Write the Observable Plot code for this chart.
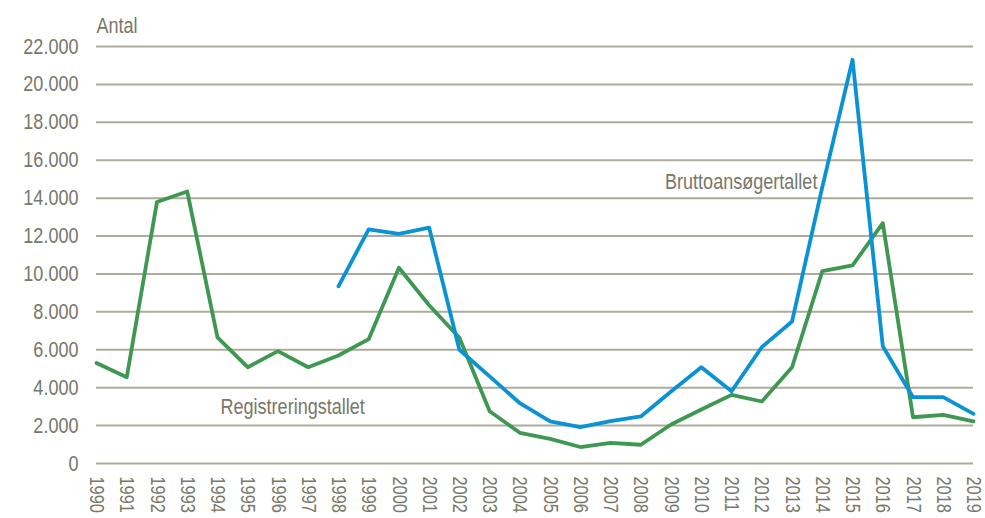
<!DOCTYPE html>
<html>
<head>
<meta charset="utf-8">
<script src="https://cdn.jsdelivr.net/npm/d3@7"></script>
<script src="https://cdn.jsdelivr.net/npm/@observablehq/plot@0.6"></script>
<style>
  html, body { margin: 0; padding: 0; background: #fff; }
  #chart svg { display: block; }
</style>
</head>
<body>
<div id="chart"></div>
<script>
const years = d3.range(1990, 2020);
const registrering = [5300, 4550, 13800, 14350, 6650, 5080, 5930, 5080, 5700, 6560,
  10330, 8350, 6630, 2760, 1620, 1300, 870, 1090, 990, 2060,
  2850, 3620, 3270, 5080, 10150, 10450, 12680, 2440, 2570, 2220];
const bruttoYears = d3.range(1998, 2020);
const brutto = [9350, 12350, 12120, 12440, 6000, 4600, 3180, 2220, 1920, 2230,
  2480, 3800, 5080, 3810, 6140, 7490, 14580, 21300, 6190, 3500, 3500, 2620];
const yTicks = d3.range(0, 22001, 2000);
const labels = [
  {text: "Bruttoansøgertallet", x: 2008.8, y: 14850},
  {text: "Registreringstallet", x: 1994.1, y: 3010}
];

const regData = years.map((y, i) => ({year: y, value: registrering[i]}));
const bruData = bruttoYears.map((y, i) => ({year: y, value: brutto[i]}));

const fmt = d3.formatLocale({decimal: ",", thousands: ".", grouping: [3], currency: ["", ""]}).format(",d");

const FONT = "'Liberation Sans', Arial, sans-serif";
const TXT = "#77776a";

const chart = Plot.plot({
  width: 985,
  height: 518,
  marginLeft: 96,
  marginRight: 12,
  marginTop: 46,
  marginBottom: 55,
  style: {fontFamily: FONT, fontSize: "22px", color: TXT, background: "#fff"},
  x: {domain: [1990, 2019]},
  y: {domain: [0, 22000]},
  marks: [
    Plot.ruleY(yTicks, {stroke: "#aeab9c", strokeWidth: 2}),
    Plot.axisY({ticks: yTicks, tickFormat: fmt, tickSize: 0, tickPadding: 18, label: null, fontSize: 22, fill: TXT}),
    Plot.axisX({ticks: years, tickFormat: d => String(d), tickSize: 0, tickPadding: 13, tickRotate: 90, label: null, fontSize: 20, fill: TXT}),
    Plot.line(regData, {x: "year", y: "value", stroke: "#3f9851", strokeWidth: 3.8}),
    Plot.line(bruData, {x: "year", y: "value", stroke: "#0a93d4", strokeWidth: 3.8}),
    Plot.text(labels, {x: "x", y: "y", text: "text", textAnchor: "start", fill: TXT, fontSize: 22}),
    Plot.text(["Antal"], {frameAnchor: "top-left", lineAnchor: "middle", dy: -21, textAnchor: "start", fill: TXT, fontSize: 22})
  ]
});
document.getElementById("chart").append(chart);
// emulate a condensed (Arial Narrow-like) face
chart.querySelectorAll("text").forEach(t => {
  const tr = t.getAttribute("transform");
  if (tr) {
    t.setAttribute("transform", tr + " scale(0.82,1)");
  } else {
    const L = t.getComputedTextLength();
    if (L > 0) {
      t.setAttribute("textLength", (L * 0.82).toFixed(2));
      t.setAttribute("lengthAdjust", "spacingAndGlyphs");
    }
  }
});
</script>
</body>
</html>
